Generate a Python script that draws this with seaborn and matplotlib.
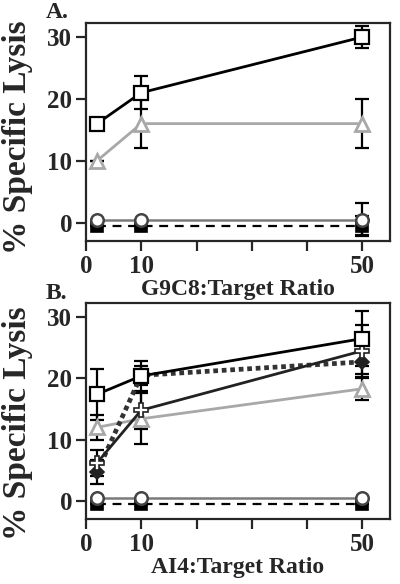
import numpy as np
import pandas as pd
import matplotlib
matplotlib.use("Agg")
import matplotlib.pyplot as plt
import seaborn as sns

ratios = [2, 10, 50]

# panel A: G9C8 effector
a_square = [16, 21, 30]
a_square_err = [0, 2.7, 1.7]
a_triangle = [10, 16, 16]
a_triangle_err = [0, 4, 4]
a_circle = [0.5, 0.5, 0.5]
a_circle_err = [0, 0, 2.7]
a_fill_square = [-0.5, -0.5, -0.5]
a_fill_square_err = [0, 0, 1.5]

# panel B: AI4 effector
b_square = [17.4, 20.4, 26.5]
b_square_err = [4.2, 2.4, 4.5]
b_cross = [6.2, 14.8, 24.5]
b_cross_err = [2.1, 3.0, 4.3]
b_diamond = [4.7, 20.5, 22.7]
b_diamond_err = [2.0, 1.5, 2.0]
b_triangle = [12.0, 13.4, 18.3]
b_triangle_err = [2.0, 4.2, 1.8]
b_circle = [0.5, 0.5, 0.5]
b_circle_err = [0, 0, 0]
b_fill_square = [-0.5, -0.5, -0.5]
b_fill_square_err = [0, 0, 0]

sns.set_style("ticks")
plt.rcParams['font.family'] = ['Liberation Serif', 'DejaVu Serif']
plt.rcParams['font.weight'] = 'bold'

fig = plt.figure(figsize=(4, 5.84), dpi=100)
ax_a = fig.add_axes([0.215, 0.587, 0.76, 0.374])
ax_b = fig.add_axes([0.215, 0.111, 0.76, 0.370])

styles = {
    'fill_square': dict(color='black', marker='s', mfc='black', mec='black', ms=8, lw=1.6, ls=(0, (4, 3))),
    'circle': dict(color='#7a7a7a', marker='o', mfc='white', mec='#444444', mew=1.8, ms=9, lw=1.8, ls='-'),
    'triangle': dict(color='#a8a8a8', marker='^', mfc='white', mec='#a8a8a8', mew=2.0, ms=10, lw=2.0, ls='-'),
    'diamond': dict(color='#333333', marker='D', mfc='#222222', mec='#222222', ms=7, lw=3.4, ls=(0, (1, 0.8))),
    'cross': dict(color='#222222', marker='P', mfc='white', mec='#222222', mew=1.2, ms=10, lw=2.0, ls='-'),
    'square': dict(color='black', marker='s', mfc='white', mec='black', mew=1.6, ms=10, lw=2.0, ls='-'),
}


def draw_series(ax, name, y, err):
    df = pd.DataFrame({'ratio': ratios, 'lysis': y})
    st = styles[name]
    ax.errorbar(df['ratio'], df['lysis'], yerr=err, fmt='none', ecolor='black',
                elinewidth=1.6, capsize=5, capthick=1.6, zorder=1)
    sns.lineplot(data=df, x='ratio', y='lysis', ax=ax, color=st['color'],
                 lw=st['lw'], linestyle=st['ls'], zorder=2)
    ax.plot(df['ratio'], df['lysis'], ls='none', marker=st['marker'], ms=st['ms'],
            mfc=st['mfc'], mec=st['mec'], mew=st.get('mew', 1.2), zorder=3)


draw_series(ax_a, 'fill_square', a_fill_square, a_fill_square_err)
draw_series(ax_a, 'circle', a_circle, a_circle_err)
draw_series(ax_a, 'triangle', a_triangle, a_triangle_err)
draw_series(ax_a, 'square', a_square, a_square_err)

draw_series(ax_b, 'fill_square', b_fill_square, b_fill_square_err)
draw_series(ax_b, 'circle', b_circle, b_circle_err)
draw_series(ax_b, 'triangle', b_triangle, b_triangle_err)
draw_series(ax_b, 'diamond', b_diamond, b_diamond_err)
draw_series(ax_b, 'cross', b_cross, b_cross_err)
draw_series(ax_b, 'square', b_square, b_square_err)

for ax, xl, ly in [(ax_a, 'G9C8:Target Ratio', 0.477), (ax_b, 'AI4:Target Ratio', 0.445)]:
    ax.set_xlim(0, 55)
    ax.set_ylim(-3, 32.3)
    ax.set_xticks([0, 10, 20, 30, 40, 50])
    ax.set_xticklabels(['0', '10', '', '', '', '50'])
    ax.set_yticks([0, 10, 20, 30])
    ax.tick_params(direction='out', length=7, width=1.6, labelsize=18, pad=3)
    for lab in ax.get_xticklabels() + ax.get_yticklabels():
        lab.set_fontweight('bold')
    for sp in ax.spines.values():
        sp.set_visible(True)
        sp.set_linewidth(1.6)
    ax.set_xlabel(xl, fontsize=17, fontweight='bold', labelpad=1)
    ax.set_ylabel('% Specific Lysis', fontsize=24, fontweight='bold')
    ax.yaxis.set_label_coords(-0.174, ly)

fig.text(0.115, 0.978, 'A.', fontsize=17, fontweight='bold', va='center')
fig.text(0.115, 0.497, 'B.', fontsize=17, fontweight='bold', va='center')

fig.savefig('out.png', dpi=100)
